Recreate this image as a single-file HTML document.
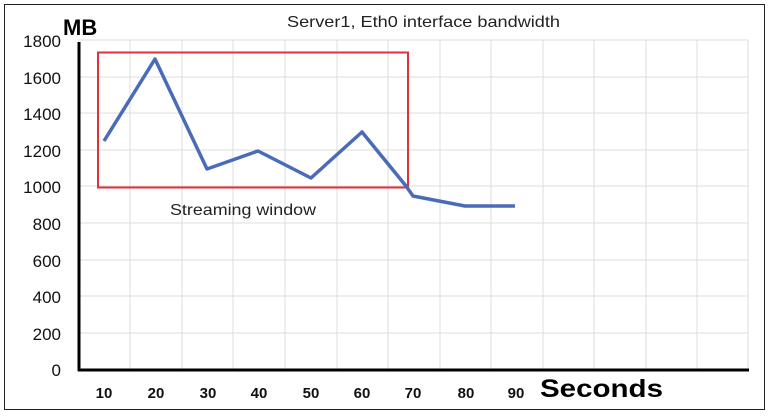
<!DOCTYPE html>
<html><head><style>
html,body{margin:0;padding:0;background:#fff;}
svg{display:block;}
text{font-family:"Liberation Sans",sans-serif;}
</style></head><body>
<svg width="769" height="418" viewBox="0 0 769 418">
<rect x="0" y="0" width="769" height="418" fill="#fff"/>
<rect x="4.5" y="4.5" width="760" height="405" fill="#fff" stroke="#222" stroke-width="1"/>
<g stroke="#dcdcdc" stroke-width="1">
<line x1="78" y1="40" x2="748" y2="40"/>
<line x1="78" y1="77" x2="748" y2="77"/>
<line x1="78" y1="113" x2="748" y2="113"/>
<line x1="78" y1="150" x2="748" y2="150"/>
<line x1="78" y1="186" x2="748" y2="186"/>
<line x1="78" y1="223" x2="748" y2="223"/>
<line x1="78" y1="260" x2="748" y2="260"/>
<line x1="78" y1="296" x2="748" y2="296"/>
<line x1="78" y1="333" x2="748" y2="333"/>
<line x1="130" y1="40" x2="130" y2="370"/>
<line x1="182" y1="40" x2="182" y2="370"/>
<line x1="233" y1="40" x2="233" y2="370"/>
<line x1="285" y1="40" x2="285" y2="370"/>
<line x1="337" y1="40" x2="337" y2="370"/>
<line x1="388" y1="40" x2="388" y2="370"/>
<line x1="440" y1="40" x2="440" y2="370"/>
<line x1="491" y1="40" x2="491" y2="370"/>
<line x1="543" y1="40" x2="543" y2="370"/>
<line x1="594" y1="40" x2="594" y2="370"/>
<line x1="646" y1="40" x2="646" y2="370"/>
<line x1="697" y1="40" x2="697" y2="370"/>
<line x1="748" y1="40" x2="748" y2="370"/>
</g>
<line x1="79" y1="42" x2="79" y2="371" stroke="#000" stroke-width="3"/>
<line x1="78" y1="370" x2="749" y2="370" stroke="#000" stroke-width="3"/>
<rect x="98" y="52.5" width="310" height="135" fill="none" stroke="#e0303a" stroke-width="2"/>
<polyline points="104,141 155,59 207,169 258,151 311,178 362,132 406,186 413,196 465,206 515,206" fill="none" stroke="#4a6cb8" stroke-width="3.5" stroke-linejoin="round"/>
<g font-size="17" fill="#111" text-anchor="end">
<text x="61" y="47">1800</text>
<text x="61" y="84">1600</text>
<text x="61" y="120">1400</text>
<text x="61" y="157">1200</text>
<text x="61" y="193">1000</text>
<text x="61" y="230">800</text>
<text x="61" y="267">600</text>
<text x="61" y="303">400</text>
<text x="61" y="340">200</text>
<text x="61" y="376">0</text>
</g>
<g font-size="15" font-weight="bold" fill="#111" text-anchor="middle">
<text x="104" y="398">10</text>
<text x="156" y="398">20</text>
<text x="208" y="398">30</text>
<text x="259" y="398">40</text>
<text x="311" y="398">50</text>
<text x="362" y="398">60</text>
<text x="413" y="398">70</text>
<text x="466" y="398">80</text>
<text x="516" y="398">90</text>
</g>
<text x="540" y="397" font-size="25" font-weight="bold" fill="#000" textLength="123" lengthAdjust="spacingAndGlyphs">Seconds</text>
<text x="63" y="35" font-size="22" font-weight="bold" fill="#000">MB</text>
<text x="287" y="27" font-size="16" fill="#222" textLength="273" lengthAdjust="spacingAndGlyphs">Server1, Eth0 interface bandwidth</text>
<text x="170" y="215" font-size="16" fill="#222" textLength="146" lengthAdjust="spacingAndGlyphs">Streaming window</text>
</svg>
</body></html>
